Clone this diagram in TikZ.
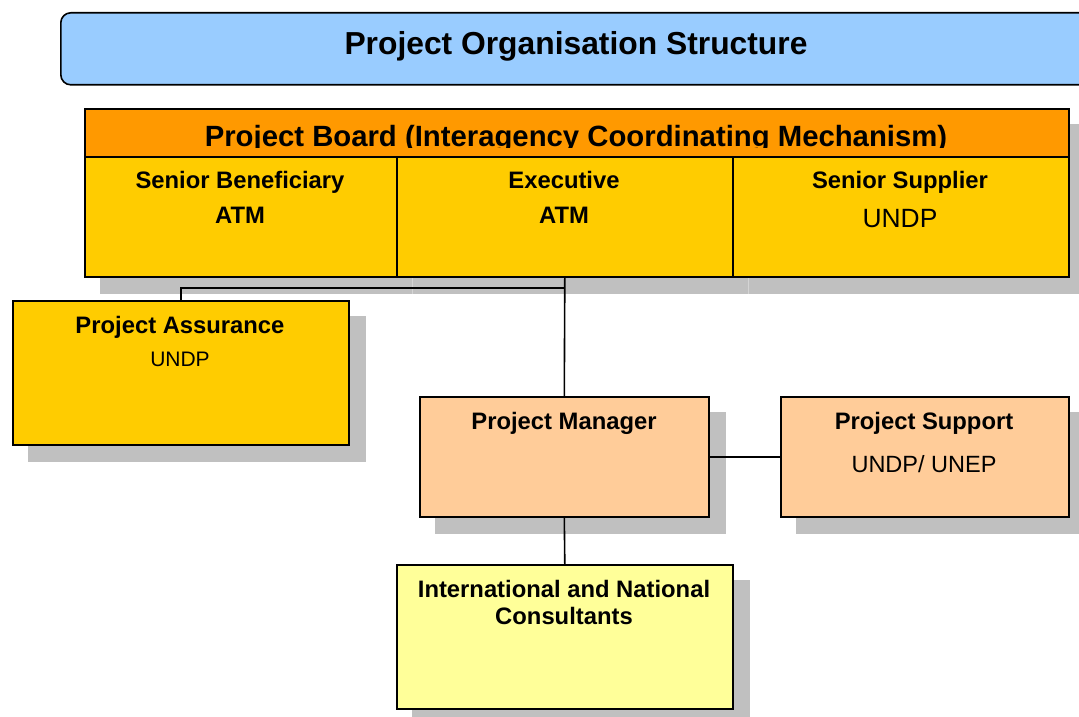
\documentclass[tikz,border=0pt]{standalone}
\usepackage{fontspec}
\setmainfont{Liberation Sans}
\usetikzlibrary{backgrounds}
\definecolor{titleblue}{HTML}{99CCFF}
\definecolor{bandorange}{HTML}{FF9900}
\definecolor{colyellow}{HTML}{FFCC00}
\definecolor{peach}{HTML}{FFCC99}
\definecolor{paleyellow}{HTML}{FFFF99}
\definecolor{shadowgray}{HTML}{C0C0C0}
\definecolor{shadowline}{HTML}{D4D4D4}
\begin{document}
\begin{tikzpicture}[x=1pt,y=-1pt,
  box/.style={draw=black, line width=1.6pt, rectangle, inner sep=0pt, anchor=north west},
  conn/.style={draw=black, line width=1.6pt},
  lbl/.style={anchor=base, inner sep=0pt, font=\fontsize{23.8}{28}\selectfont\bfseries},
  sub/.style={anchor=base, inner sep=0pt, font=\fontsize{#1}{#1}\selectfont},
  shadowbox/.style={fill=shadowgray, draw=none}
]
\clip (0,0) rectangle (1079,717);

% title
\node[box, rounded corners=10pt, fill=titleblue, minimum width=1040pt, minimum height=72pt] (title) at (60,12) {};
\node[anchor=base, inner sep=0pt, font=\fontsize{31.8}{36}\selectfont\bfseries] (titletxt) at (576,55) {Project Organisation Structure};

% board
\node[box, fill=bandorange, minimum width=984pt, minimum height=48pt] (band) at (84,108) {};
\node[box, fill=colyellow, minimum width=312pt, minimum height=120pt] (benef) at (84,156) {};
\node[box, fill=colyellow, minimum width=336pt, minimum height=120pt] (exec) at (396,156) {};
\node[box, fill=colyellow, minimum width=336pt, minimum height=120pt] (supp) at (732,156) {};
\begin{scope}
\clip (84,108) rectangle (1068,147.5);
\node[anchor=base, inner sep=0pt, font=\fontsize{29.3}{34}\selectfont\bfseries] (bandtxt) at (576,146) {Project Board (Interagency Coordinating Mechanism)};
\end{scope}
\node[lbl] (benef1) at (240,188) {Senior Beneficiary};
\node[lbl] (benef2) at (240,223) {ATM};
\node[lbl] (exec1) at (564,188) {Executive};
\node[lbl] (exec2) at (564,223) {ATM};
\node[lbl] (supp1) at (900,188) {Senior Supplier};
\node[sub=26.4] (supp2) at (900,227) {UNDP};

% other boxes
\node[box, fill=colyellow, minimum width=336pt, minimum height=144pt] (assur) at (12,300) {};
\node[lbl] (assur1) at (180,333) {Project Assurance};
\node[sub=21] (assur2) at (180,366) {UNDP};

\node[box, fill=peach, minimum width=289pt, minimum height=120pt] (pm) at (419,396) {};
\node[lbl] (pm1) at (564,429) {Project Manager};

\node[box, fill=peach, minimum width=288pt, minimum height=120pt] (ps) at (780,396) {};
\node[lbl] (ps1) at (924,429) {Project Support};
\node[sub=23.5] (ps2) at (924,472.5) {UNDP/ UNEP};

\node[box, fill=paleyellow, minimum width=336pt, minimum height=144pt] (cons) at (396,564) {};
\node[lbl] (cons1) at (564,597) {International and National};
\node[lbl] (cons2) at (564,624) {Consultants};

% shadows
\begin{scope}[on background layer]
\path[shadowbox] ([shift={(16,16)}]band.north west) rectangle ([shift={(16,16)}]supp.south east);
\draw[shadowline, line width=0.8pt] ([shift={(16,0)}]exec.south west) -- ([shift={(16,16)}]exec.south west);
\draw[shadowline, line width=0.8pt] ([shift={(16,0)}]supp.south west) -- ([shift={(16,16)}]supp.south west);
\path[shadowbox] ([shift={(16,16)}]assur.north west) rectangle ([shift={(16,16)}]assur.south east);
\path[shadowbox] ([shift={(16,16)}]pm.north west) rectangle ([shift={(16,16)}]pm.south east);
\path[shadowbox] ([shift={(16,16)}]ps.north west) rectangle ([shift={(16,16)}]ps.south east);
\path[shadowbox] ([shift={(16,16)}]cons.north west) rectangle ([shift={(16,16)}]cons.south east);
\end{scope}

% connectors
\coordinate (jn) at (564,288);
\draw[conn] (exec.south) -- (pm.north);
\draw[conn] (jn) -| (assur.north);
\draw[conn] (pm.east) -- (ps.west);
\draw[conn] (pm.south) -- (cons.north);
\end{tikzpicture}
\end{document}
